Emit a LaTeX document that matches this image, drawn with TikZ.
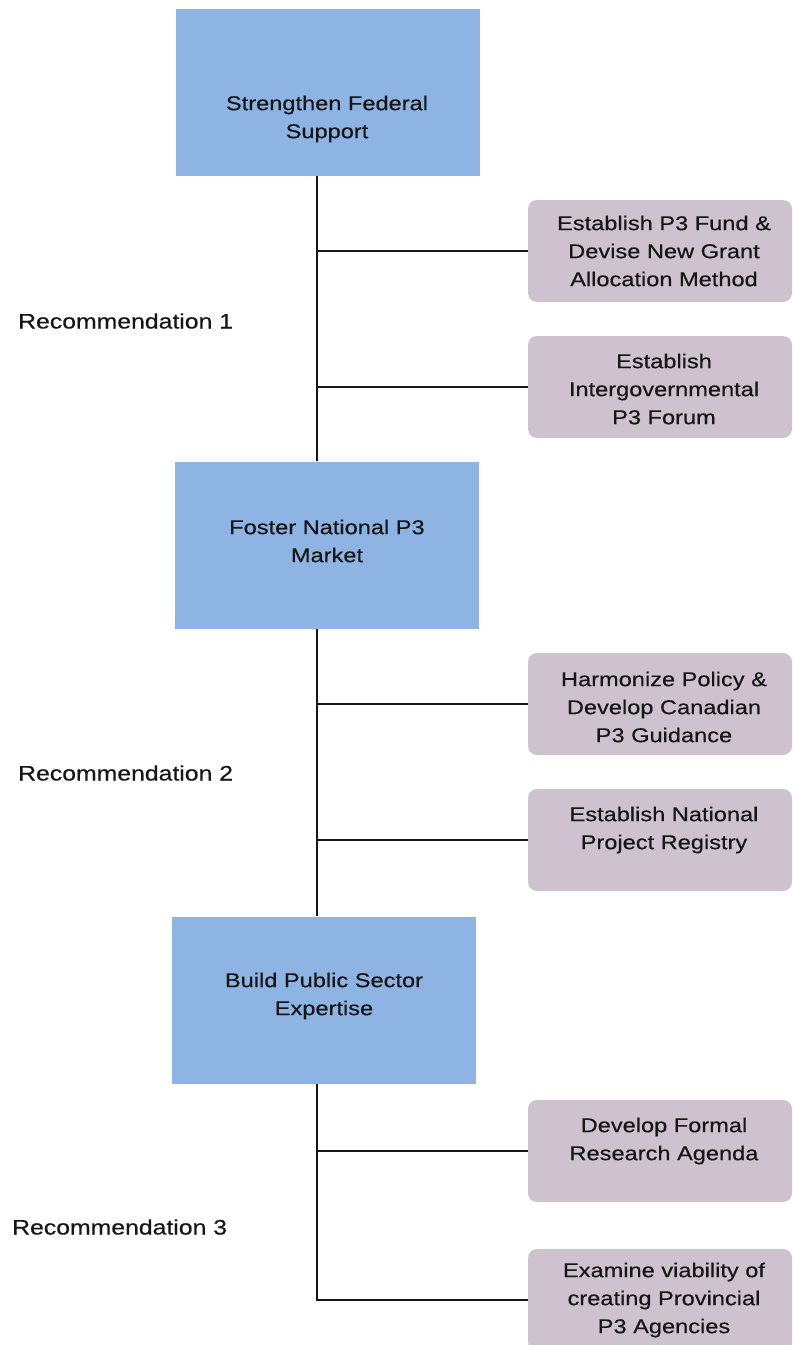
\documentclass[tikz,border=0pt]{standalone}
\usepackage{fontspec}
\setmainfont{Liberation Sans}[FakeStretch=1.18,FakeBold=0.4]
\definecolor{bluebox}{HTML}{8EB4E3}
\definecolor{graybox}{HTML}{CDC2CD}
\definecolor{ink}{HTML}{161616}
\begin{document}
\begin{tikzpicture}[x=1pt,y=-1pt,
  mainbox/.style={fill=bluebox, draw=none, minimum width=304pt, minimum height=167pt, inner sep=0pt},
  subbox/.style={fill=graybox, draw=none, rounded corners=9pt, minimum width=264pt, minimum height=102pt, inner sep=0pt},
  boxtext/.style={align=center, inner sep=0pt, text=ink, font=\fontsize{20}{28}\selectfont},
  rectext/.style={anchor=west, inner sep=0pt, text=ink, font=\fontsize{21}{26}\selectfont},
  conn/.style={draw=ink, line width=1.9pt}]
\useasboundingbox (0,0) rectangle (793,1345);
% main boxes
\node[mainbox] (b1) at (328,92) {};
\node[mainbox] (b2) at (327,545) {};
\node[mainbox] (b3) at (324,1000) {};
\node[boxtext] (t1) at (327,119) {Strengthen Federal\\Support};
\node[boxtext] (t2) at (327,541) {Foster National P3\\Market};
\node[boxtext] (t3) at (324,996) {Build Public Sector\\Expertise};
% sub boxes
\node[subbox] (a) at (660,251) {};
\node[subbox] (b) at (660,387) {};
\node[subbox] (c) at (660,704) {};
\node[subbox] (d) at (660,840) {};
\node[subbox] (e) at (660,1151) {};
\node[subbox] (f) at (660,1300) {};
\node[boxtext] (ta) at (664,251) {Establish P3 Fund \&\\Devise New Grant\\Allocation Method};
\node[boxtext] (tb) at (664,389) {Establish\\Intergovernmental\\P3 Forum};
\node[boxtext] (tc) at (664,707) {Harmonize Policy \&\\Develop Canadian\\P3 Guidance};
\node[boxtext] (td) at (664,830) {Establish National\\Project Registry};
\node[boxtext] (te) at (664,1141) {Develop Formal\\Research Agenda};
\node[boxtext] (tf) at (664,1300) {Examine viability of\\creating Provincial\\P3 Agencies};
% recommendation labels
\node[rectext] (r1) at (18,321) {Recommendation 1};
\node[rectext] (r2) at (18,773) {Recommendation 2};
\node[rectext] (r3) at (12,1227) {Recommendation 3};
% trunk
\coordinate (tr) at (317,0);
\draw[conn] (b1.south -| tr) -- (b2.north -| tr);
\draw[conn] (b2.south -| tr) -- (b3.north -| tr);
\draw[conn] (b3.south -| tr) |- (f.west);
% branches
\draw[conn] (a.west -| tr) -- (a.west);
\draw[conn] (b.west -| tr) -- (b.west);
\draw[conn] (c.west -| tr) -- (c.west);
\draw[conn] (d.west -| tr) -- (d.west);
\draw[conn] (e.west -| tr) -- (e.west);
\end{tikzpicture}
\end{document}
